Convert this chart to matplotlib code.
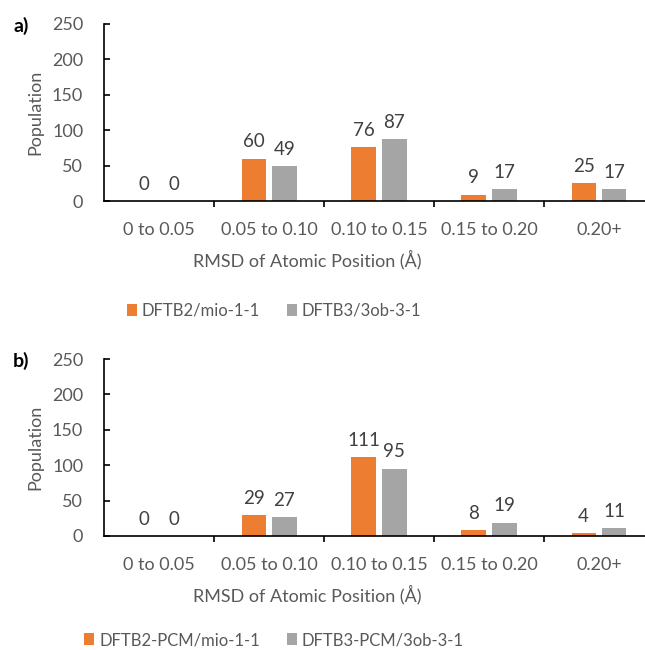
import numpy as np
import matplotlib
matplotlib.use("Agg")
import matplotlib.pyplot as plt

categories = ["0 to 0.05", "0.05 to 0.10", "0.10 to 0.15", "0.15 to 0.20", "0.20+"]

gas_dftb2 = [0, 60, 76, 9, 25]
gas_dftb3 = [0, 49, 87, 17, 17]
pcm_dftb2 = [0, 29, 111, 8, 4]
pcm_dftb3 = [0, 27, 95, 19, 11]

panels = [
    ("a)", "DFTB2/mio-1-1", gas_dftb2, "DFTB3/3ob-3-1", gas_dftb3),
    ("b)", "DFTB2-PCM/mio-1-1", pcm_dftb2, "DFTB3-PCM/3ob-3-1", pcm_dftb3),
]

ORANGE = "#ED7D31"
GREY = "#A5A5A5"
TICK_GREY = "#595959"
LABEL_GREY = "#404040"

plt.rcParams["font.family"] = ["Lato", "DejaVu Sans"]

W, H = 645, 650
fig = plt.figure(figsize=(W / 100, H / 100), dpi=100)


def px(x, y):
    # pixel position (from top-left) to figure fraction
    return x / W, 1 - y / H


# axes boxes in pixels: left, right, top(250), bottom(0), legend offset
boxes = [(104, 654, 24, 201, 110), (104, 654, 359, 536, 104)]

x = np.arange(len(categories))
width = 0.22
offset = 0.14

for (tag, name1, vals1, name2, vals2), (l, r, t, b, leg) in zip(panels, boxes):
    ax = fig.add_axes([l / W, 1 - b / H, (r - l) / W, (b - t) / H])
    bars1 = ax.bar(x - offset, vals1, width, color=ORANGE, label=name1)
    bars2 = ax.bar(x + offset, vals2, width, color=GREY, label=name2)
    ax.bar_label(bars1, padding=6, fontsize=13.5, color=LABEL_GREY)
    ax.bar_label(bars2, padding=6, fontsize=13.5, color=LABEL_GREY)

    ax.set_xlim(-0.5, len(categories) - 0.5)
    ax.set_ylim(0, 250)
    ax.set_yticks(range(0, 251, 50))

    ax.set_xticks(x)
    ax.set_xticklabels(categories)
    ax.set_xticks(np.arange(0.5, len(categories) - 1, 1.0), minor=True)
    ax.tick_params(axis="x", which="major", length=0, pad=15,
                   labelsize=13, labelcolor=TICK_GREY)
    ax.tick_params(axis="x", which="minor", length=4, width=1.2,
                   direction="out", color="black")
    ax.tick_params(axis="y", which="major", length=4.5, width=1.2,
                   direction="in", pad=15, labelsize=13, labelcolor=TICK_GREY)

    for side in ("top", "right"):
        ax.spines[side].set_visible(False)
    for side in ("left", "bottom"):
        ax.spines[side].set_linewidth(1.2)
        ax.spines[side].set_color("black")

    fx, fy = px(21, t + 2)
    fig.text(fx, fy, tag, fontsize=14, fontweight="bold", ha="center", va="center")
    fx, fy = px(35, (t + b) / 2)
    fig.text(fx, fy, "Population", fontsize=13, color=TICK_GREY, rotation=90,
             ha="center", va="center")
    fx, fy = px(307, b + 59)
    fig.text(fx, fy, "RMSD of Atomic Position (Å)", fontsize=13, color=TICK_GREY,
             ha="center", va="center")

    fx, fy = px(274, b + leg)
    ax.legend(loc="center", bbox_to_anchor=(fx, fy), bbox_transform=fig.transFigure,
              ncol=2, frameon=False, fontsize=12, labelcolor=TICK_GREY,
              handlelength=0.6, handleheight=0.75, handletextpad=0.3,
              columnspacing=1.6, borderpad=0, borderaxespad=0)

fig.savefig("out.png", dpi=100)
